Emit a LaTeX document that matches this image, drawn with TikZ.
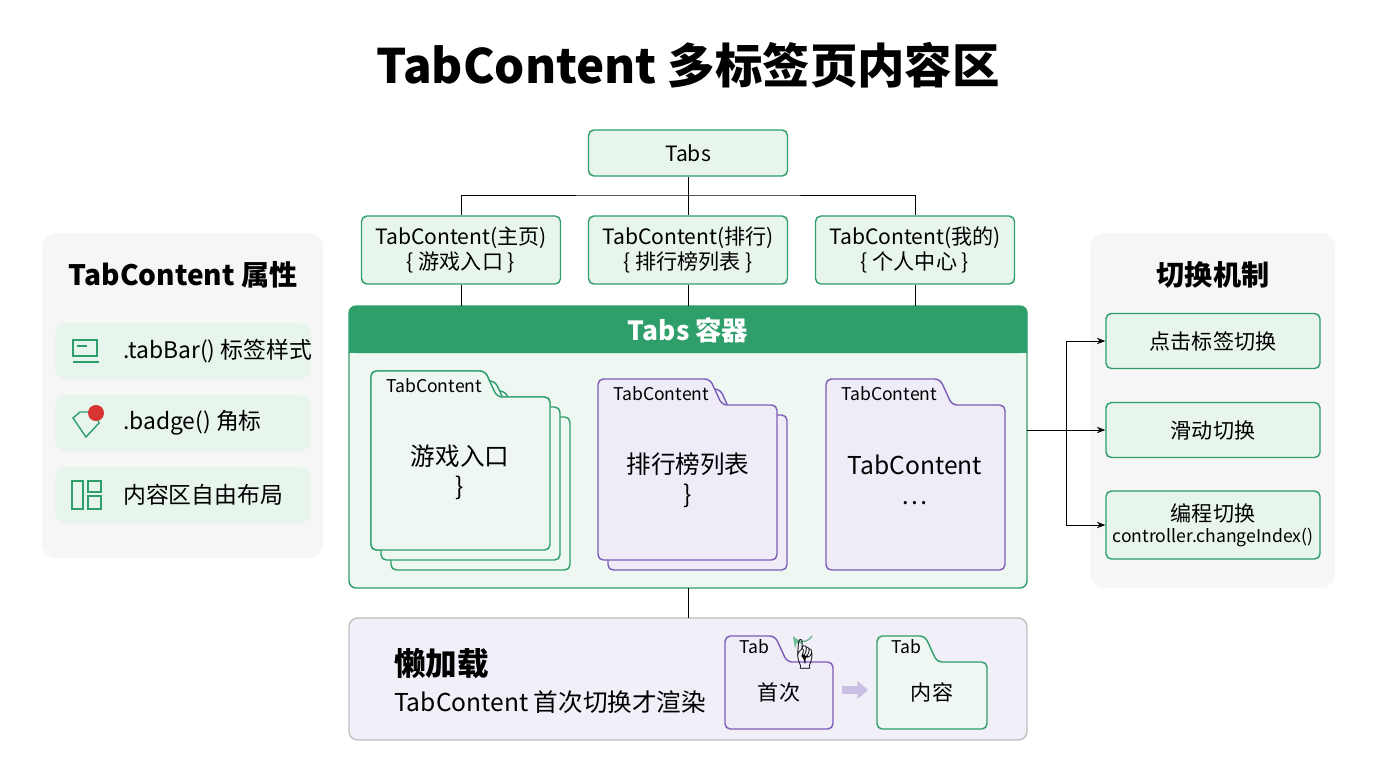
\documentclass[tikz,border=0pt]{standalone}
\usepackage{fontspec}
\setmainfont{Noto Sans CJK SC}
\usetikzlibrary{positioning,arrows.meta}
\definecolor{grn}{HTML}{2E9E6A}
\definecolor{grnfill}{HTML}{E8F5EC}
\definecolor{boxfill}{HTML}{EEF7F1}
\definecolor{pur}{HTML}{7B5CB8}
\definecolor{purfill}{HTML}{EFECF8}
\definecolor{lazyfill}{HTML}{F1EFF8}
\definecolor{panel}{HTML}{F6F6F6}
% folder outline: corners, tab end, tab height
\newcommand{\folderpath}[6]{%
  \draw[#6,thick,rounded corners=3pt] (#1,#4) -- (#1,#2) -- (#5,#2) -- ++(12,26) -- (#3,#2+26) -- (#3,#4) -- cycle;}
\begin{document}
\begin{tikzpicture}[x=0.02cm,y=-0.02cm,
		>=Stealth,
		every node/.append style={font=\fontsize{12}{14}\selectfont},
		topbox/.style={draw=grn,thick,fill=grnfill,rounded corners=3pt,align=center,inner sep=0pt},
		switch/.style={draw=grn,thick,fill=grnfill,rounded corners=3pt,align=center,inner sep=0pt,minimum width=4.28cm},
		tabtxt/.style={font=\fontsize{10}{12}\selectfont,anchor=west},
	]
	\useasboundingbox (0,0) rectangle (1376,768);
	\node[font=\fontsize{27}{30}\bfseries\selectfont] (title) at (688,65) {TabContent 多标签页内容区};
	% top tree
	\node[topbox,minimum width=3.98cm,minimum height=0.92cm] (tabs) at (688,153) {Tabs};
	\node[topbox,minimum width=3.98cm,minimum height=1.36cm] (home) at (461,250) {TabContent(主页)\\\{ 游戏入口 \}};
	\node[topbox,minimum width=3.98cm,minimum height=1.36cm] (rank) at (688,250) {TabContent(排行)\\\{ 排行榜列表 \}};
	\node[topbox,minimum width=3.98cm,minimum height=1.36cm] (mine) at (915,250) {TabContent(我的)\\\{ 个人中心 \}};
	\coordinate (fork) at (688,195);
	\draw (tabs.south) -- (fork);
	\draw (home.north) |- (fork) -| (mine.north);
	\draw (fork) -- (rank.north);
	% container
	\fill[boxfill,draw=grn,thick,rounded corners=4pt] (349,306) rectangle (1027,588);
	\fill[grn,rounded corners=4pt] (349,306) rectangle (1027,353);
	\fill[grn] (349,330) rectangle (1027,353);
	\node[white,font=\fontsize{15}{18}\bfseries\selectfont] (box) at (688,330) {Tabs 容器};
	\foreach \n/\x in {home/461,rank/688,mine/915}
		\draw (\n.south) -- (\x,306);
	% folders
	\foreach \d in {20,10}
		\folderpath{371+\d}{371+\d}{550+\d}{550+\d}{485+\d}{grn,fill=boxfill}
	\folderpath{371}{371}{550}{550}{485}{grn,fill=boxfill}
	\node[tabtxt] (f1tab) at (380,386) {TabContent};
	\node[align=center,font=\fontsize{14}{17}\selectfont] (f1) at (460,472) {游戏入口\\\}};
	\folderpath{608}{389}{787}{570}{720}{pur,fill=purfill}
	\folderpath{598}{379}{777}{560}{710}{pur,fill=purfill}
	\node[tabtxt] (f2tab) at (607,394) {TabContent};
	\node[align=center,font=\fontsize{14}{17}\selectfont] (f2) at (688,480) {排行榜列表\\\}};
	\folderpath{826}{379}{1005}{570}{940}{pur,fill=purfill}
	\node[tabtxt] (f3tab) at (835,394) {TabContent};
	\node[align=center,font=\fontsize{14}{17}\selectfont] (f3) at (915,480) {TabContent\\…};
	% lazy loading
	\draw[gray!50,thick,fill=lazyfill,rounded corners=5pt] (349,618) rectangle (1027,740);
	\draw (688,588) -- (688,618);
	\node[anchor=west,font=\fontsize{18}{22}\bfseries\selectfont] (lazy) at (388,664) {懒加载};
	\node[anchor=west,font=\fontsize{14}{17}\selectfont] (lazytxt) at (388,702) {TabContent 首次切换才渲染};
	\folderpath{725}{636}{833}{729}{775}{pur,fill=purfill}
	\node[tabtxt] (t1) at (733,647) {Tab};
	\node (first) at (779,692) {首次};
	\folderpath{877}{636}{987}{729}{925}{grn,fill=boxfill}
	\node[tabtxt] (t2) at (885,647) {Tab};
	\node (content) at (932,692) {内容};
	\draw[-{Triangle[length=6pt,width=10pt]},line width=4pt,pur!40] (842,690) -- (868,690);
	\draw[->,thick,grn!70] (812,636) arc (30:150:11);
	\node[font=\fontsize{18}{18}\selectfont] (hand) at (804,654) {☝};
	% left panel
	\fill[panel,rounded corners=8pt] (42,233) rectangle (323,558);
	\node[font=\fontsize{16}{19}\bfseries\selectfont] (attr) at (183,275) {TabContent 属性};
	\foreach \y/\t [count=\i] in {351/.tabBar() 标签样式,423/.badge() 角标,495/内容区自由布局}{
		\fill[grnfill,rounded corners=6pt] (55,\y-28) rectangle (311,\y+28);
		\node[anchor=west,font=\fontsize{13}{16}\selectfont] (attr\i) at (117,\y) {\t};
	}
	\draw[grn,thick] (73,340) rectangle (97,356) (77,346) -- (87,346) (73,362) -- (99,362);
	\draw[grn,thick] (73,418) -- (80,412) -- (95,412) -- (99,423) -- (86,437) -- cycle;
	\fill[red!80!black!80] (96,413) circle (8);
	\draw[grn,thick] (72,481) rectangle (83,509) (88,481) rectangle (101,492) (88,496) rectangle (101,509);
	% right panel
	\fill[panel,rounded corners=8pt] (1090,233) rectangle (1335,588);
	\node[font=\fontsize{16}{19}\bfseries\selectfont] (mech) at (1213,275) {切换机制};
	\node[switch,minimum height=1.1cm] (click) at (1213,341) {点击标签切换};
	\node[switch,minimum height=1.1cm] (swipe) at (1213,430) {滑动切换};
	\node[switch,minimum height=1.36cm] (prog) at (1213,525) {编程切换\\[-2pt]{\fontsize{10}{12}\selectfont controller.changeIndex()}};
	\coordinate (split) at (1066,430);
	\draw (1027,430) -- (split);
	\draw[->] (split) -- (swipe.west);
	\draw[->] (split) |- (click.west);
	\draw[->] (split) |- (prog.west);
\end{tikzpicture}
\end{document}
